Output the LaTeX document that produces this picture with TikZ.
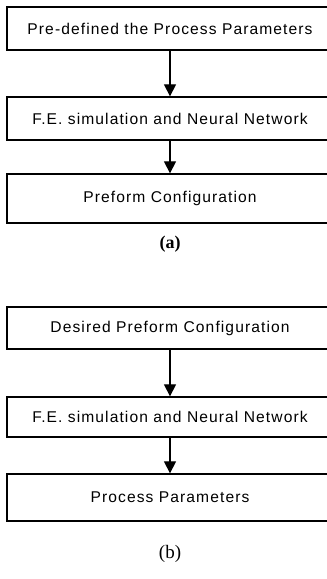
\documentclass[tikz,border=0pt]{standalone}
\usepackage{fontspec}
\setmainfont{Liberation Serif}
\newfontfamily\boxfont[LetterSpace=7]{Liberation Sans}
\usetikzlibrary{arrows.meta}
\newcommand{\bx}[1]{#1\hspace*{12pt}}
\begin{document}
\begin{tikzpicture}[x=1pt,y=-1pt,
  blk/.style={draw,line width=1.3pt,minimum width=338pt,inner sep=0pt,font=\boxfont\fontsize{15.6}{17}\selectfont},
  arr/.style={line width=1.2pt,-{Triangle[length=12pt,width=12pt]}},
  sublabel/.style={font=\fontsize{19}{21}\selectfont}]
\useasboundingbox (0,0) rectangle (327,579);
\node[blk,minimum height=43pt] (a1) at (176,28.5) {\bx{Pre-defined the Process Parameters}};
\node[blk,minimum height=43pt] (a2) at (176,118.5) {\bx{F.E. simulation and Neural Network}};
\node[blk,minimum height=49pt] (a3) at (176,198.5) {\bx{Preform Configuration}};
\node[sublabel,font=\bfseries\fontsize{18}{21}\selectfont] (la) at (170,244) {(a)};
\node[blk,minimum height=42pt] (b1) at (176,328) {\bx{Desired Preform Configuration}};
\node[blk,minimum height=40pt] (b2) at (176,417) {\bx{F.E. simulation and Neural Network}};
\node[blk,minimum height=47pt] (b3) at (176,497.5) {\bx{Process Parameters}};
\node[sublabel] (lb) at (170,554) {(b)};
\draw[arr] ([xshift=-6pt]a1.south) -- ([xshift=-6pt]a2.north);
\draw[arr] ([xshift=-6pt]a2.south) -- ([xshift=-6pt]a3.north);
\draw[arr] ([xshift=-6pt]b1.south) -- ([xshift=-6pt]b2.north);
\draw[arr] ([xshift=-6pt]b2.south) -- ([xshift=-6pt]b3.north);
\end{tikzpicture}
\end{document}
